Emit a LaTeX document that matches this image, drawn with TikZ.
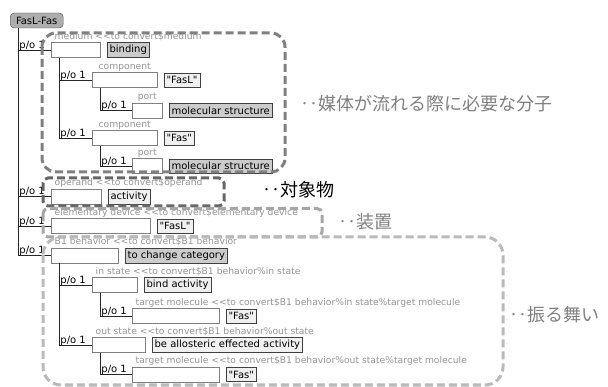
\documentclass[tikz,border=0pt]{standalone}
\usepackage{fontspec}
\setmainfont{DejaVu Sans}[Ligatures=TeXOff]
\newfontfamily\jpfont{Noto Sans CJK JP}
\usetikzlibrary{positioning}

\begin{document}
\begin{tikzpicture}[x=1pt, y=-1pt, font=\fontsize{10}{12}\selectfont]

    \tikzset{%
    root node/.style={
        draw=black!70,
        fill=black!32,
        rounded corners=4pt,
        inner sep=0pt,
        minimum width=53pt,
        minimum height=15pt
        },
    slot/.style={draw=black!50, fill=white, inner sep=0pt, minimum height=15pt, anchor=west},
    kind/.style={draw=black!75, fill=black!20, inner sep=2.5pt, minimum height=14pt},
    value/.style={draw=black!75, fill=black!6, inner sep=2.5pt, minimum height=14pt},
    role/.style={text=black!42, inner sep=0pt, font=\fontsize{9.2}{11}\selectfont},
    po/.style={pos=0.5, anchor=base west, inner sep=1pt, yshift=1.5pt, text=black},
    tree/.style={draw=black!85, line width=0.8pt},
    region/.style={line width=3pt, dash pattern=on 8pt off 4pt},
    jp/.style={anchor=west, inner sep=0pt, text=black!50, font=\jpfont\fontsize{18}{21}\selectfont},
    }

    \useasboundingbox (0,0) rectangle (608,387);

    % Root concept
    \node [root node, anchor=west] (root) at (10,20.5) {FasL-Fas};

    % Empty slot boxes
    \foreach \n/\x/\y/\w in {medium/51/50/49pt, compA/92/80/65pt, portA/132/110.5/30pt,
        compB/92/138/65pt, portB/132/166/30pt, operand/51/196.5/50pt, device/51/226/99pt,
        behavior/51/255.5/67pt, instate/92/285/45pt, targetA/132/316/87pt,
        outstate/92/345/53pt, targetB/132/374.5/87pt}
    \node [slot, minimum width=\w] (\n) at (\x,\y) {};

    % Class constraints (gray) beside the slots
    \foreach \s/\t in {medium/binding, portA/molecular structure, portB/molecular structure,
        behavior/to change category}
    \node [kind, right=6.5pt of \s] (\s-val) {\t};

    % Value constraints (light) beside the slots
    \foreach \s/\t in {compA/"FasL", compB/"Fas", operand/activity, device/"FasL",
        instate/bind activity, targetA/"Fas", outstate/be allosteric effected activity,
        targetB/"Fas"}
    \node [value, right=6.5pt of \s] (\s-val) {\t};

    % Role names, long ones left aligned
    \foreach \s/\t in {medium/{medium <<to convert\$medium},
        operand/{operand <<to convert\$operand},
        device/{elementary device <<to convert\$elementary device},
        behavior/{B1 behavior <<to convert\$B1 behavior},
        instate/{in state <<to convert\$B1 behavior\%in state},
        targetA/{target molecule <<to convert\$B1 behavior\%in state\%target molecule},
        outstate/{out state <<to convert\$B1 behavior\%out state},
        targetB/{target molecule <<to convert\$B1 behavior\%out state\%target molecule}}
    \node [role, anchor=base west] (\s-role) at ([xshift=3.5pt, yshift=3pt]\s.north west) {\t};

    % Role names, short ones centred
    \foreach \s/\t in {compA/component, portA/port, compB/component, portB/port}
    \node [role, anchor=base] (\s-role) at ([yshift=3pt]\s.north) {\t};

    % part-of links
    \foreach \p/\c in {root/medium, medium/compA, compA/portA, medium/compB, compB/portB,
        root/operand, root/device, root/behavior, behavior/instate, instate/targetA,
        behavior/outstate, outstate/targetB}
    \draw [tree] ([xshift=8pt]\p.south west) |- node [po] (\c-po) {p/o 1} (\c.west);

    % Dashed groups
    \draw [region, draw=black!50, rounded corners=14pt] (42,33) rectangle (285,172);
    \draw [region, draw=black!60, rounded corners=5pt] (43,178) rectangle (224,206);
    \draw [region, draw=black!35, rounded corners=5pt] (43,208.5) rectangle (322,237);
    \draw [region, draw=black!27, rounded corners=18pt] (43,237) rectangle (503,385);

    % Notes for the groups
    \node [jp] (medium-note) at (300,104) {‥媒体が流れる際に必要な分子};
    \node [jp, text=black] (operand-note) at (262,190) {‥対象物};
    \node [jp] (device-note) at (338,222) {‥装置};
    \node [jp] (behavior-note) at (509,315) {‥振る舞い};

\end{tikzpicture}
\end{document}
